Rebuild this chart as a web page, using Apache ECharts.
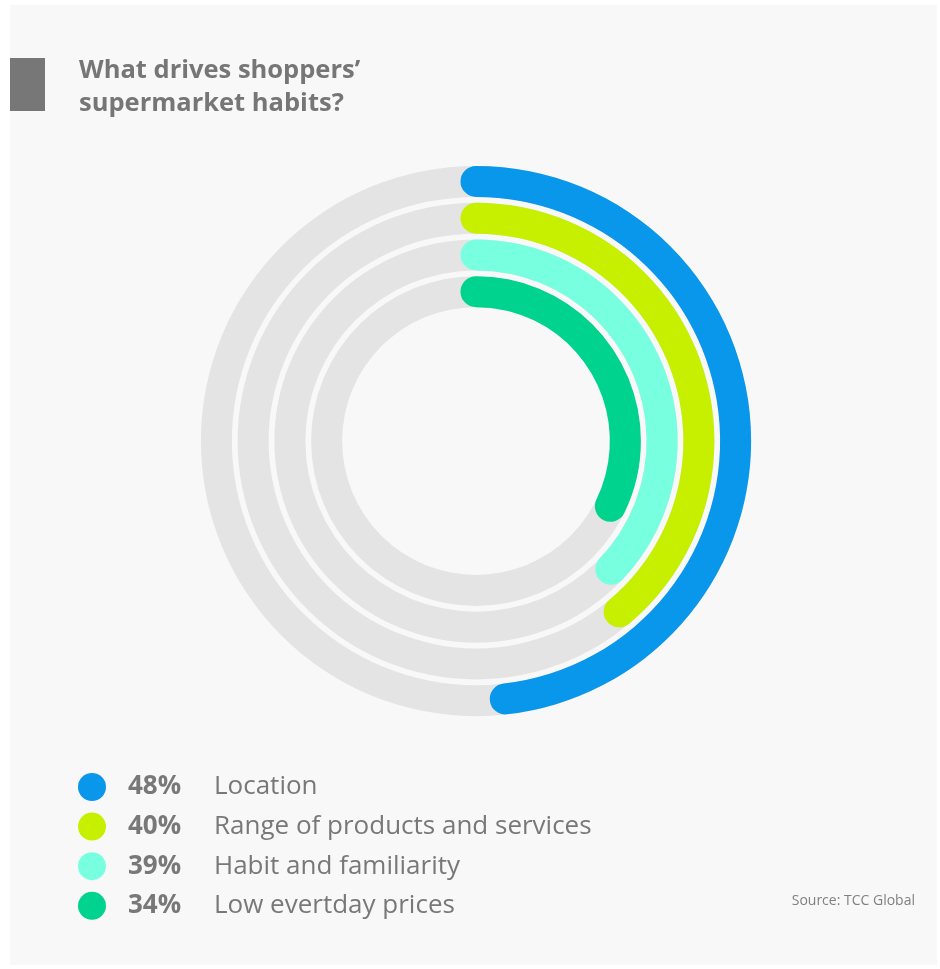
<!DOCTYPE html>
<html>
<head>
<meta charset="utf-8">
<script src="https://cdn.jsdelivr.net/npm/echarts@6/dist/echarts.min.js"></script>
<style>
  html, body { margin: 0; padding: 0; background: #ffffff; }
  #chart { position: absolute; left: 10px; top: 5px; width: 927px; height: 960px; background: #f8f8f8; }
</style>
</head>
<body>
<div id="chart"></div>
<script>
// drivers, outermost ring first
var drivers = ['Location', 'Range of products and services', 'Habit and familiarity', 'Low evertday prices'];
var shareLabels = [48, 40, 39, 34];
// arc lengths as drawn in the picture (percent of a full turn)
var arcShares = [48.2, 38.9, 37.1, 32.2];
var colors = ['#0897ea', '#c6f000', '#78ffe0', '#00d38e'];

var chart = echarts.init(document.getElementById('chart'));

// radius axis runs inside -> out, so reverse the ring order
var ringCats = drivers.slice().reverse();

var series = drivers.map(function (name, i) {
    var data = ringCats.map(function (c) { return c === name ? arcShares[i] : '-'; });
    return {
        name: name,
        type: 'bar',
        coordinateSystem: 'polar',
        stack: 'rings',
        data: data,
        barWidth: 31,
        roundCap: true,
        showBackground: i === 0,
        backgroundStyle: { color: '#e4e4e4' },
        itemStyle: { color: colors[i] },
        z: 2 + i,
        silent: true
    };
});

chart.setOption({
    backgroundColor: '#f8f8f8',
    animation: false,
    title: {
        text: 'What drives shoppers’\nsupermarket habits?',
        left: 64,
        top: 44,
        textStyle: {
            fontFamily: 'Open Sans',
            fontSize: 25.5,
            fontWeight: 'bold',
            color: '#767676',
            lineHeight: 33
        }
    },
    graphic: [
        { type: 'rect', shape: { x: 0, y: 53, width: 35, height: 53 }, style: { fill: '#777777' } },
        {
            type: 'text',
            right: 22,
            top: 889,
            style: { text: 'Source: TCC Global', fontFamily: 'Open Sans', fontSize: 14, fill: '#808080' }
        }
    ],
    polar: { center: [466, 436], radius: [131, 278] },
    angleAxis: {
        max: 100,
        startAngle: 90,
        clockwise: true,
        show: false
    },
    radiusAxis: {
        type: 'category',
        data: ringCats,
        show: false
    },
    legend: {
        orient: 'vertical',
        left: 68,
        top: 768,
        padding: 0,
        icon: 'circle',
        itemWidth: 28,
        itemHeight: 28,
        itemGap: 11.6,
        selectedMode: false,
        data: drivers,
        formatter: function (name) {
            var i = drivers.indexOf(name);
            return '{p|' + shareLabels[i] + '%}{n|' + name + '}';
        },
        textStyle: {
            rich: {
                p: { fontFamily: 'Open Sans', fontSize: 26, fontWeight: 'bold', color: '#787878', width: 86, padding: [0, 0, 0, 17], lineHeight: 28 },
                n: { fontFamily: 'Open Sans', fontSize: 26, color: '#787878', lineHeight: 28 }
            }
        }
    },
    series: series
});
</script>
</body>
</html>
